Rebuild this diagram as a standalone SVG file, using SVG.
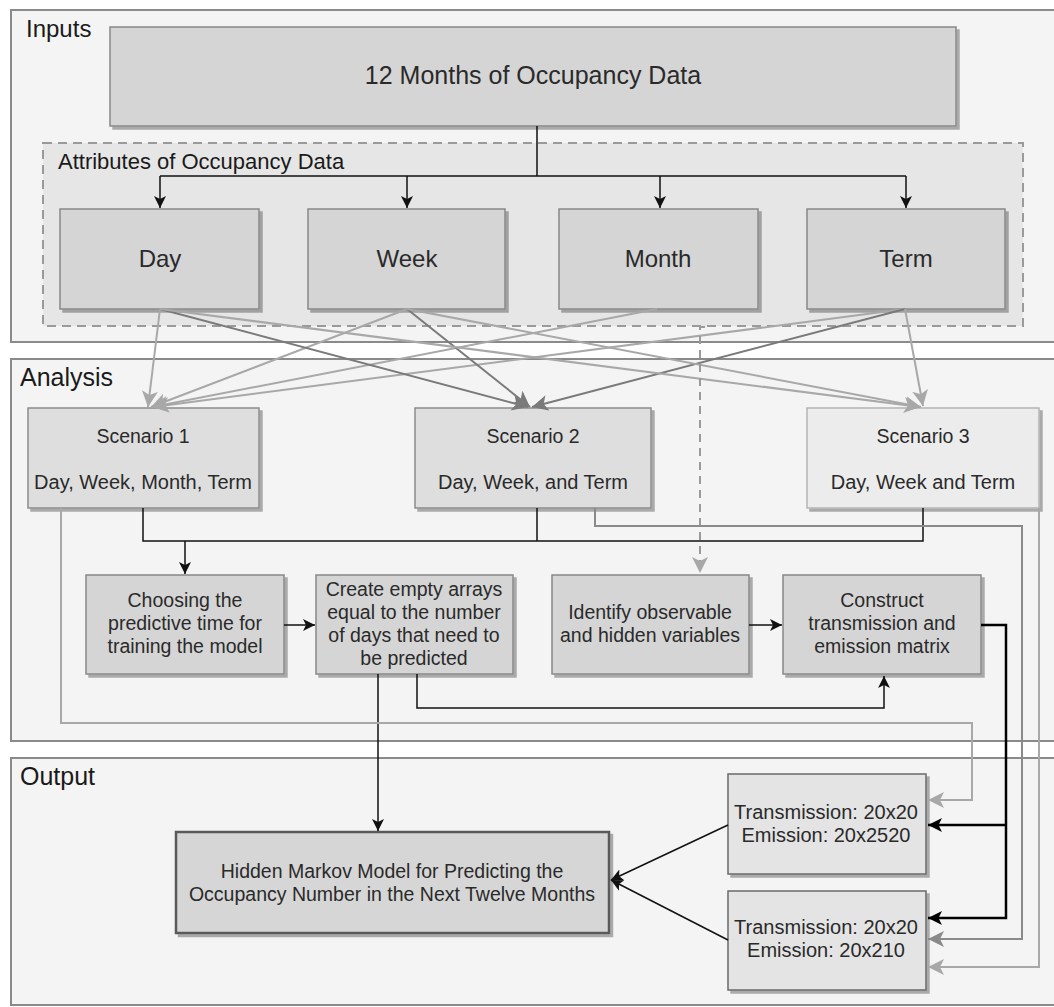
<svg xmlns="http://www.w3.org/2000/svg" width="1054" height="1007" viewBox="0 0 1054 1007">
<defs>
<style>
.panel{fill:#f4f4f4;stroke:#8a8a8a;stroke-width:2}
.lbl{font-family:"Liberation Sans",Arial,sans-serif;fill:#1a1a1a}
.t{font-family:"Liberation Sans",Arial,sans-serif;fill:#2a2a2a;text-anchor:middle}
.box{fill:#d5d5d5;stroke:#888;stroke-width:1.5;filter:url(#sh)}
.sc{fill:#dedede;stroke:#8c8c8c;stroke-width:1.5;filter:url(#sh)}
.sc3{fill:#ececec;stroke:#b4b4b4;stroke-width:1.5;filter:url(#sh)}
.tb{fill:#e4e4e4;stroke:#6a6a6a;stroke-width:1.5;filter:url(#sh)}
.hmm{fill:#d6d6d6;stroke:#5a5a5a;stroke-width:2.5;filter:url(#sh)}
.k{fill:none;stroke:#111;stroke-width:1.5}
.kk{fill:none;stroke:#000;stroke-width:2.5}
.gl{fill:none;stroke:#a8a8a8;stroke-width:2}
.gm{fill:none;stroke:#8a8a8a;stroke-width:2}
.gd{fill:none;stroke:#7a7a7a;stroke-width:2}
</style>
<filter id="sh" x="-5%" y="-5%" width="115%" height="120%">
<feDropShadow dx="3" dy="3" stdDeviation="0.6" flood-color="#000" flood-opacity="0.3"/>
</filter>
<marker id="ak" markerUnits="userSpaceOnUse" markerWidth="14" markerHeight="12" refX="12" refY="6" orient="auto">
<path d="M0,0 L12,6 L0,12 L3,6 z" fill="#111"/>
</marker>
<marker id="akk" markerUnits="userSpaceOnUse" markerWidth="16" markerHeight="14" refX="14" refY="7" orient="auto">
<path d="M0,0 L14,7 L0,14 L3.5,7 z" fill="#000"/>
</marker>
<marker id="agl" markerUnits="userSpaceOnUse" markerWidth="18" markerHeight="16" refX="16" refY="8" orient="auto">
<path d="M0,0 L16,8 L0,16 L4,8 z" fill="#a8a8a8"/>
</marker>
<marker id="agm" markerUnits="userSpaceOnUse" markerWidth="18" markerHeight="16" refX="16" refY="8" orient="auto">
<path d="M0,0 L16,8 L0,16 L4,8 z" fill="#8a8a8a"/>
</marker>
<marker id="agd" markerUnits="userSpaceOnUse" markerWidth="18" markerHeight="16" refX="16" refY="8" orient="auto">
<path d="M0,0 L16,8 L0,16 L4,8 z" fill="#7a7a7a"/>
</marker>
</defs>
<rect x="0" y="0" width="1054" height="1007" fill="#ffffff"/>

<g id="panel-inputs">
<rect class="panel" x="11" y="10" width="1060" height="332"/>
<text class="lbl" x="26" y="37" font-size="24">Inputs</text>
</g>
<g id="panel-analysis">
<rect class="panel" x="11" y="359" width="1060" height="382"/>
<text class="lbl" x="20" y="386" font-size="25">Analysis</text>
</g>
<g id="panel-output">
<rect class="panel" x="11" y="758" width="1060" height="247"/>
<text class="lbl" x="20" y="785" font-size="25">Output</text>
</g>

<g id="group-attributes">
<rect x="43" y="143" width="980" height="183" fill="#e6e6e6" stroke="#9a9a9a" stroke-width="2" stroke-dasharray="9 6"/>
<text class="lbl" x="58" y="169" font-size="22">Attributes of Occupancy Data</text>
</g>

<g id="node-data">
<rect class="box" x="110" y="27" width="846" height="99"/>
<text class="t" x="533" y="84" font-size="25" fill="#1a1a1a">12 Months of Occupancy Data</text>
</g>
<g id="node-day">
<rect class="box" x="60" y="209" width="199" height="100"/>
<text class="t" x="160" y="267" font-size="24">Day</text>
</g>
<g id="node-week">
<rect class="box" x="308" y="209" width="197" height="100"/>
<text class="t" x="407" y="267" font-size="24">Week</text>
</g>
<g id="node-month">
<rect class="box" x="559" y="209" width="199" height="100"/>
<text class="t" x="658" y="267" font-size="24">Month</text>
</g>
<g id="node-term">
<rect class="box" x="807" y="209" width="198" height="100"/>
<text class="t" x="906" y="267" font-size="24">Term</text>
</g>

<g id="node-scenario1">
<rect class="sc" x="28" y="408" width="231" height="100"/>
<text class="t" x="143" y="443" font-size="19.5">Scenario 1</text>
<text class="t" x="143" y="489" font-size="20">Day, Week, Month, Term</text>
</g>
<g id="node-scenario2">
<rect class="sc" x="415" y="408" width="236" height="100"/>
<text class="t" x="533" y="443" font-size="19.5">Scenario 2</text>
<text class="t" x="533" y="489" font-size="20">Day, Week, and Term</text>
</g>
<g id="node-scenario3">
<rect class="sc3" x="807" y="408" width="232" height="100"/>
<text class="t" x="923" y="443" font-size="19.5">Scenario 3</text>
<text class="t" x="923" y="489" font-size="20">Day, Week and Term</text>
</g>

<g id="node-choosing">
<rect class="box" x="86" y="575" width="198" height="99"/>
<text class="t" x="185" y="607" font-size="19.5" fill="#3a3a3a">Choosing the</text>
<text class="t" x="185" y="630" font-size="19.5" fill="#3a3a3a">predictive time for</text>
<text class="t" x="185" y="653" font-size="19.5" fill="#3a3a3a">training the model</text>
</g>
<g id="node-create">
<rect class="box" x="316" y="575" width="197" height="99"/>
<text class="t" x="414" y="596" font-size="19.5" fill="#3a3a3a">Create empty arrays</text>
<text class="t" x="414" y="619" font-size="19.5" fill="#3a3a3a">equal to the number</text>
<text class="t" x="414" y="642" font-size="19.5" fill="#3a3a3a">of days that need to</text>
<text class="t" x="414" y="665" font-size="19.5" fill="#3a3a3a">be predicted</text>
</g>
<g id="node-identify">
<rect class="box" x="552" y="575" width="197" height="99"/>
<text class="t" x="650" y="619" font-size="19.5" fill="#2a2a2a">Identify observable</text>
<text class="t" x="650" y="642" font-size="19.5" fill="#2a2a2a">and hidden variables</text>
</g>
<g id="node-construct">
<rect class="box" x="783" y="575" width="198" height="99"/>
<text class="t" x="882" y="607" font-size="19.5" fill="#2a2a2a">Construct</text>
<text class="t" x="882" y="630" font-size="19.5" fill="#2a2a2a">transmission and</text>
<text class="t" x="882" y="653" font-size="19.5" fill="#2a2a2a">emission matrix</text>
</g>

<g id="node-hmm">
<rect class="hmm" x="176" y="832" width="433" height="101"/>
<text class="t" x="392" y="878" font-size="19.5">Hidden Markov Model for Predicting the</text>
<text class="t" x="392" y="901" font-size="19.5">Occupancy Number in the Next Twelve Months</text>
</g>
<g id="node-result1">
<rect class="tb" x="728" y="774" width="198" height="100"/>
<text class="t" x="826" y="819" font-size="20">Transmission: 20x20</text>
<text class="t" x="826" y="842" font-size="20">Emission: 20x2520</text>
</g>
<g id="node-result2">
<rect class="tb" x="728" y="891" width="198" height="99"/>
<text class="t" x="826" y="934" font-size="20">Transmission: 20x20</text>
<text class="t" x="826" y="957" font-size="20">Emission: 20x210</text>
</g>

<g id="connectors">
<path class="k" d="M537,126 V176"/>
<path class="k" d="M160,176 H906"/>
<path class="k" d="M160,176 V208" marker-end="url(#ak)"/>
<path class="k" d="M407,176 V208" marker-end="url(#ak)"/>
<path class="k" d="M660,176 V208" marker-end="url(#ak)"/>
<path class="k" d="M906,176 V208" marker-end="url(#ak)"/>
<path class="gl" d="M160,309 L148,407" marker-end="url(#agl)"/>
<path class="gl" d="M407,309 L151,407" marker-end="url(#agl)"/>
<path class="gl" d="M657,309 L152,407" marker-end="url(#agl)"/>
<path class="gl" d="M905,309 L153,407" marker-end="url(#agl)"/>
<path class="gd" d="M160,309 L528,407" marker-end="url(#agd)"/>
<path class="gd" d="M407,309 L530,407" marker-end="url(#agd)"/>
<path class="gd" d="M905,309 L532,407" marker-end="url(#agd)"/>
<path class="gl" d="M160,309 L920,407" marker-end="url(#agl)"/>
<path class="gl" d="M407,309 L921,407" marker-end="url(#agl)"/>
<path class="gl" d="M905,309 L923,406" marker-end="url(#agl)"/>
<path d="M705,327 H700 V573" fill="none" stroke="#9a9a9a" stroke-width="2" stroke-dasharray="8 6" marker-end="url(#agl)"/>
<path class="k" d="M143,508 V541 H923 V508"/>
<path class="k" d="M537,508 V541"/>
<path class="k" d="M185,541 V574" marker-end="url(#ak)"/>
<path class="k" d="M284,625 H315" marker-end="url(#ak)"/>
<path class="k" d="M749,625 H782" marker-end="url(#ak)"/>
<path class="k" d="M417,674 V708 H884 V676" marker-end="url(#ak)"/>
<path class="k" d="M378,674 V831" marker-end="url(#ak)"/>
<path class="kk" d="M981,625 H1006 V918 H928" marker-end="url(#akk)"/>
<path class="kk" d="M1006,825 H928" marker-end="url(#akk)"/>
<path class="gl" d="M61,508 V723 H972 V800 H928" marker-end="url(#agl)"/>
<path class="gm" d="M595,508 V526 H1022 V939 H928" marker-end="url(#agm)"/>
<path class="gl" d="M1039,508 V967 H928" marker-end="url(#agl)"/>
<path class="k" d="M728,825 L611,880" marker-end="url(#ak)"/>
<path class="k" d="M728,940 L611,880" marker-end="url(#ak)"/>
</g>
</svg>
